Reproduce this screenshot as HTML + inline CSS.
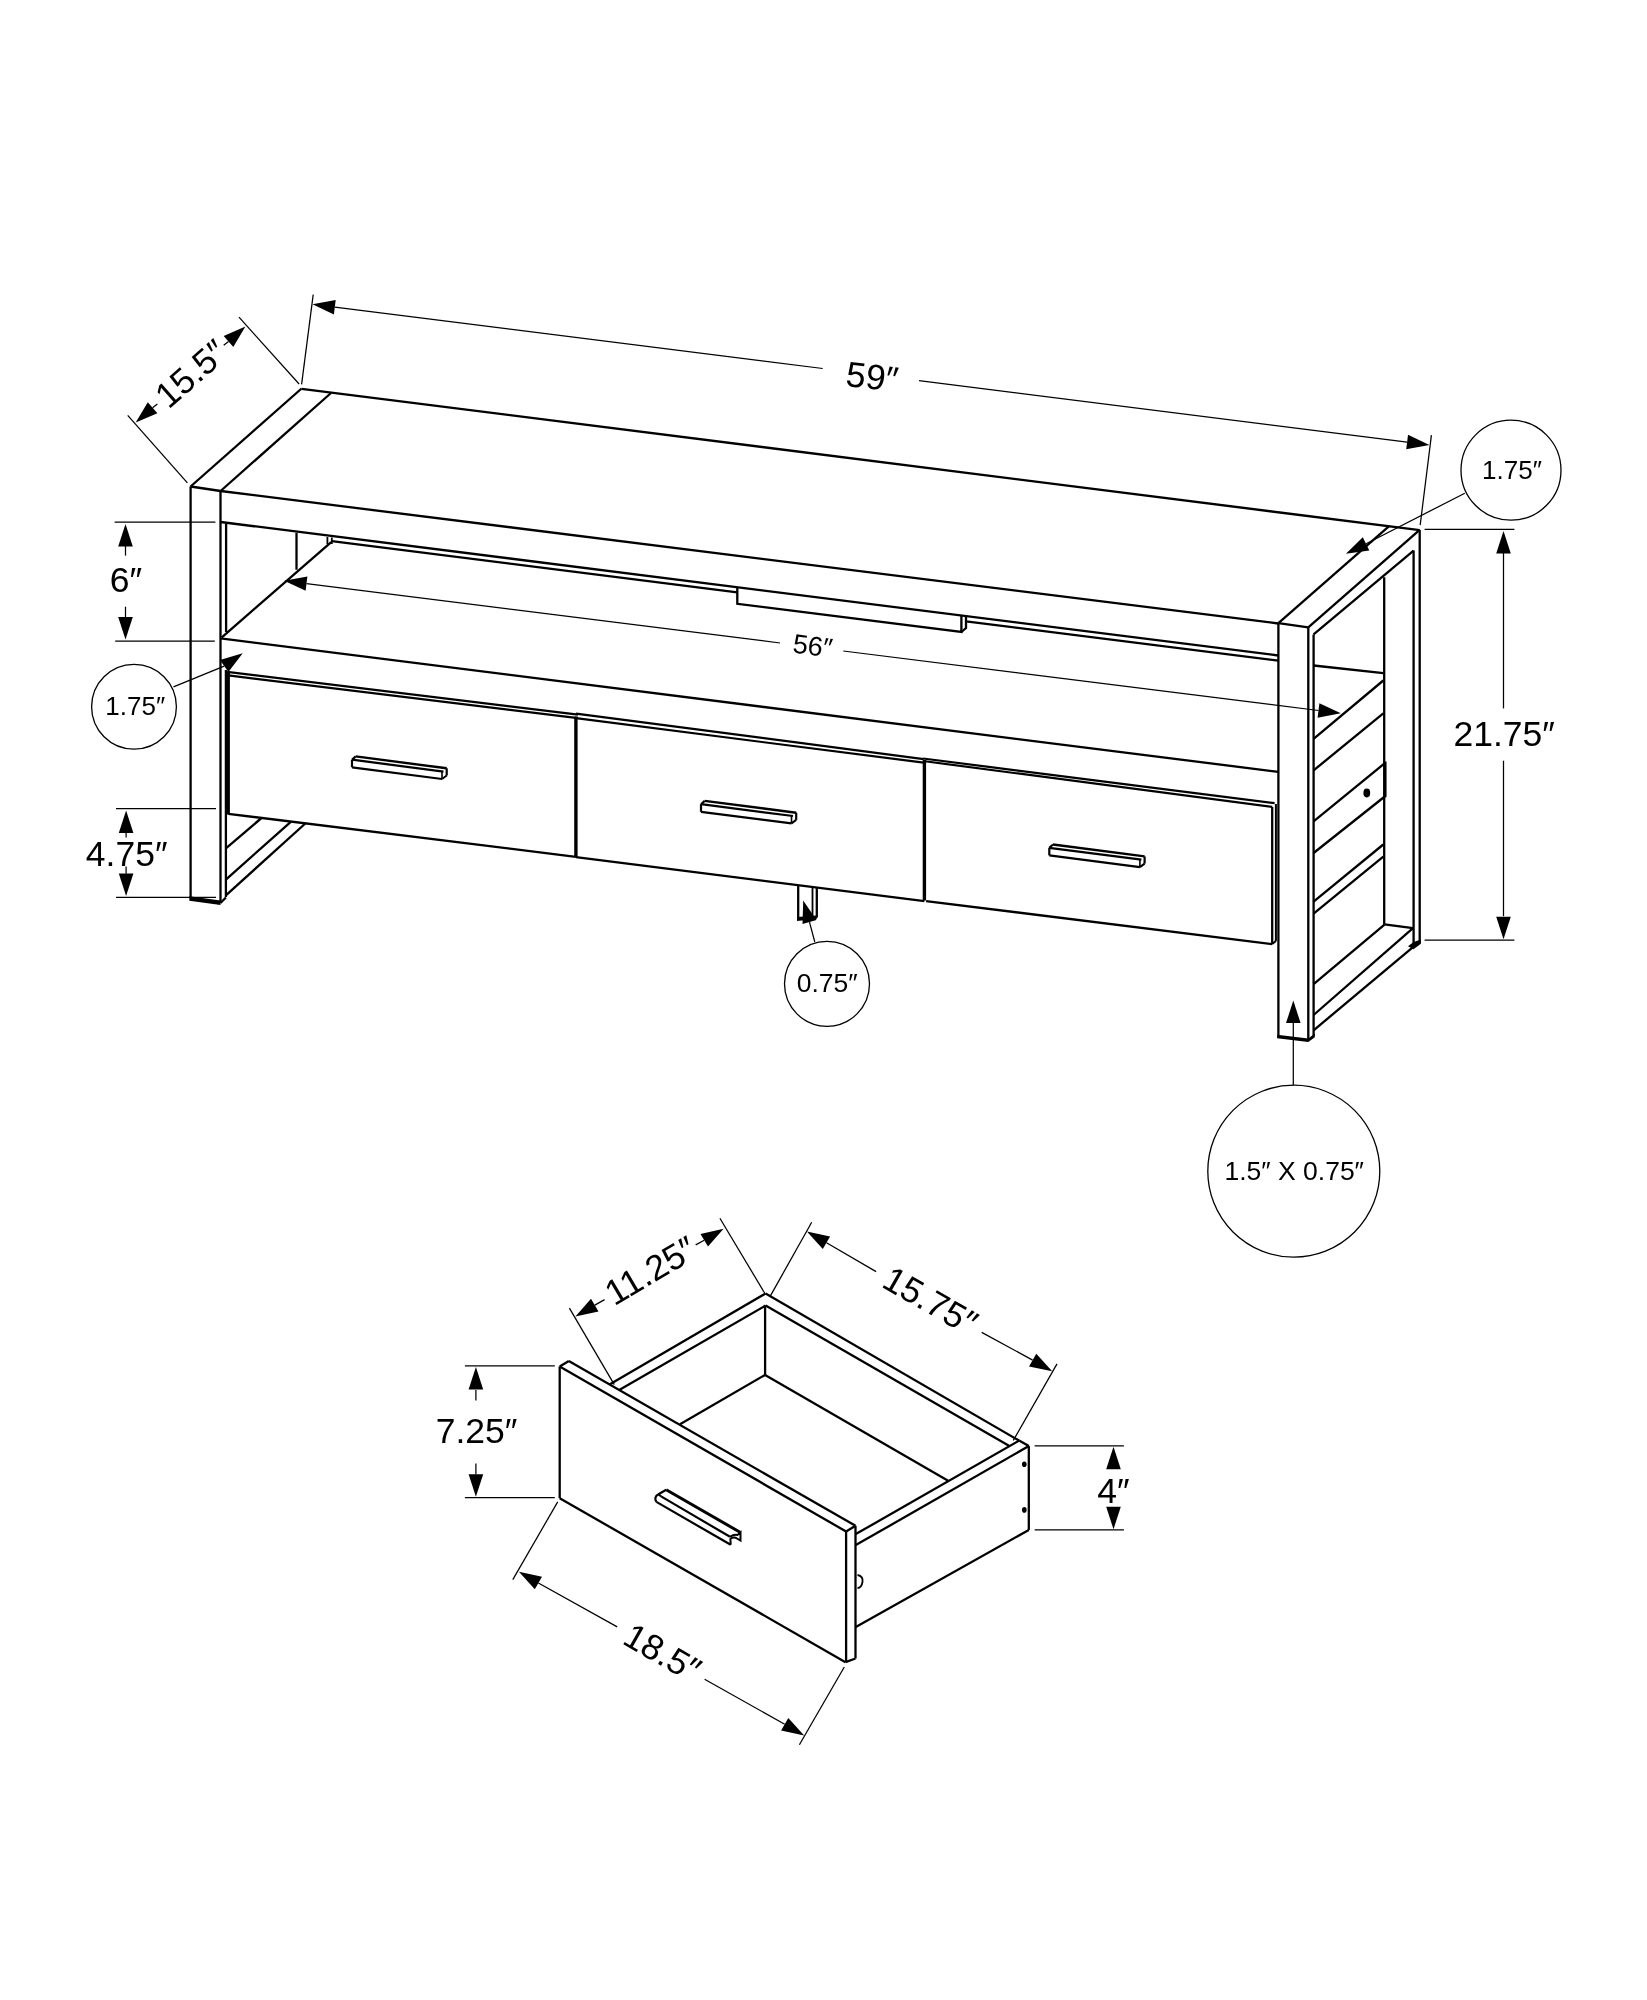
<!DOCTYPE html>
<html><head><meta charset="utf-8"><style>
html,body{margin:0;padding:0;background:#fff;width:1647px;height:2000px;overflow:hidden}
svg{display:block;will-change:transform}
text{font-family:"Liberation Sans",sans-serif;fill:#000;stroke:none}
</style></head><body>
<svg width="1647" height="2000" viewBox="0 0 1647 2000">
<g stroke="#000" stroke-linecap="butt" stroke-linejoin="miter" fill="none">
<line x1="301.6" y1="388.8" x2="1419.7" y2="530.2" stroke-width="2.3"/>
<line x1="220.6" y1="491.0" x2="1278.3" y2="623.5" stroke-width="2.3"/>
<line x1="190.6" y1="486.5" x2="301.6" y2="388.5" stroke-width="2.3"/>
<line x1="220.6" y1="491.0" x2="331.0" y2="393.0" stroke-width="2.3"/>
<line x1="190.6" y1="486.5" x2="220.6" y2="491.0" stroke-width="2.3"/>
<line x1="220.6" y1="522.0" x2="1278.3" y2="655.5" stroke-width="2.3"/>
<line x1="331.8" y1="541.2" x2="737.3" y2="592.4" stroke-width="2.3"/>
<line x1="966.0" y1="621.3" x2="1278.3" y2="660.7" stroke-width="2.3"/>
<polyline points="737.3,587.2 737.3,603.8 961.4,632.0 961.4,615.5" fill="none" stroke-width="2.3"/>
<polyline points="961.4,632.0 966.0,628.0 966.0,617.0" fill="none" stroke-width="2.3"/>
<line x1="327.4" y1="537.0" x2="327.4" y2="544.0" stroke-width="1.8"/>
<line x1="331.8" y1="537.5" x2="331.8" y2="544.0" stroke-width="1.8"/>
<line x1="296.5" y1="532.8" x2="296.5" y2="569.7" stroke-width="2.3"/>
<line x1="190.6" y1="486.5" x2="190.6" y2="898.0" stroke-width="2.3"/>
<line x1="220.5" y1="491.0" x2="220.5" y2="903.0" stroke-width="2.3"/>
<line x1="226.1" y1="523.5" x2="226.1" y2="632.0" stroke-width="2.3"/>
<line x1="225.9" y1="670.0" x2="225.9" y2="897.0" stroke-width="2.3"/>
<polygon points="189.3,896.3 220.5,900.5 220.5,905.0 189.3,900.8" fill="#000" stroke="none"/>
<line x1="220.5" y1="903.0" x2="225.9" y2="897.5" stroke-width="2.3"/>
<line x1="225.9" y1="848.3" x2="261.5" y2="818.0" stroke-width="2.3"/>
<line x1="225.9" y1="879.6" x2="290.8" y2="821.8" stroke-width="2.3"/>
<line x1="225.9" y1="895.3" x2="305.3" y2="823.5" stroke-width="2.3"/>
<line x1="221.8" y1="637.3" x2="331.2" y2="542.2" stroke-width="2.3"/>
<line x1="220.5" y1="638.4" x2="1278.3" y2="771.9" stroke-width="2.3"/>
<line x1="228.3" y1="672.0" x2="228.3" y2="814.5" stroke-width="3.2"/>
<line x1="227.0" y1="671.8" x2="578.0" y2="714.6" stroke-width="2.2"/>
<line x1="228.3" y1="675.4" x2="578.0" y2="718.2" stroke-width="2.2"/>
<line x1="228.3" y1="813.8" x2="575.9" y2="856.8" stroke-width="2.3"/>
<line x1="575.9" y1="716.5" x2="575.9" y2="857.0" stroke-width="3.4"/>
<line x1="576.0" y1="713.6" x2="923.7" y2="759.1" stroke-width="2.2"/>
<line x1="576.0" y1="718.2" x2="923.7" y2="762.7" stroke-width="2.2"/>
<line x1="575.9" y1="857.2" x2="924.4" y2="901.1" stroke-width="2.3"/>
<line x1="924.4" y1="760.0" x2="924.4" y2="900.6" stroke-width="3.4"/>
<line x1="923.0" y1="758.5" x2="1274.6" y2="803.2" stroke-width="2.2"/>
<line x1="923.0" y1="761.0" x2="1272.2" y2="806.9" stroke-width="2.2"/>
<line x1="926.1" y1="901.1" x2="1272.2" y2="944.1" stroke-width="2.3"/>
<line x1="1272.2" y1="806.9" x2="1272.2" y2="944.1" stroke-width="2.3"/>
<line x1="1275.9" y1="804.0" x2="1275.9" y2="941.0" stroke-width="2.0"/>
<line x1="1272.2" y1="944.1" x2="1275.9" y2="941.0" stroke-width="2.0"/>
<polyline points="225.9,798.5 227.5,797.5 227.5,809.5 225.9,810.5" fill="none" stroke-width="1.2"/>
<line x1="352.0" y1="767.3" x2="442.0" y2="779.0" stroke-width="2.2"/>
<line x1="352.0" y1="759.7" x2="443.5" y2="771.6" stroke-width="2.2"/>
<line x1="355.7" y1="756.4" x2="446.7" y2="768.3" stroke-width="2.4"/>
<line x1="352.0" y1="767.3" x2="352.0" y2="759.7" stroke-width="2.2"/>
<line x1="352.0" y1="759.7" x2="355.7" y2="756.4" stroke-width="2.2"/>
<line x1="446.7" y1="768.3" x2="446.7" y2="775.5" stroke-width="2.2"/>
<line x1="442.0" y1="779.0" x2="446.7" y2="775.5" stroke-width="2.0"/>
<line x1="442.0" y1="779.0" x2="442.0" y2="771.6" stroke-width="1.6"/>
<line x1="701.0" y1="811.8" x2="791.5" y2="823.4" stroke-width="2.2"/>
<line x1="701.0" y1="804.2" x2="793.0" y2="816.0" stroke-width="2.2"/>
<line x1="704.7" y1="800.9" x2="796.2" y2="812.7" stroke-width="2.4"/>
<line x1="701.0" y1="811.8" x2="701.0" y2="804.2" stroke-width="2.2"/>
<line x1="701.0" y1="804.2" x2="704.7" y2="800.9" stroke-width="2.2"/>
<line x1="796.2" y1="812.7" x2="796.2" y2="819.9" stroke-width="2.2"/>
<line x1="791.5" y1="823.4" x2="796.2" y2="819.9" stroke-width="2.0"/>
<line x1="791.5" y1="823.4" x2="791.5" y2="816.0" stroke-width="1.6"/>
<line x1="1049.3" y1="855.4" x2="1139.9" y2="867.1" stroke-width="2.2"/>
<line x1="1049.3" y1="847.8" x2="1141.4" y2="859.7" stroke-width="2.2"/>
<line x1="1053.0" y1="844.5" x2="1144.6" y2="856.4" stroke-width="2.4"/>
<line x1="1049.3" y1="855.4" x2="1049.3" y2="847.8" stroke-width="2.2"/>
<line x1="1049.3" y1="847.8" x2="1053.0" y2="844.5" stroke-width="2.2"/>
<line x1="1144.6" y1="856.4" x2="1144.6" y2="863.6" stroke-width="2.2"/>
<line x1="1139.9" y1="867.1" x2="1144.6" y2="863.6" stroke-width="2.0"/>
<line x1="1139.9" y1="867.1" x2="1139.9" y2="859.7" stroke-width="1.6"/>
<line x1="798.2" y1="885.5" x2="798.2" y2="919.0" stroke-width="2.3"/>
<line x1="812.5" y1="887.0" x2="812.5" y2="917.5" stroke-width="1.8"/>
<line x1="816.8" y1="887.6" x2="816.8" y2="917.5" stroke-width="2.3"/>
<polygon points="797.0,917.0 816.8,915.5 816.8,919.0 797.0,921.0" fill="#000" stroke="none"/>
<line x1="1278.4" y1="623.2" x2="1389.4" y2="525.8" stroke-width="2.3"/>
<line x1="1308.3" y1="627.3" x2="1419.7" y2="529.9" stroke-width="2.3"/>
<line x1="1278.4" y1="623.2" x2="1308.3" y2="627.3" stroke-width="2.3"/>
<line x1="1278.4" y1="623.2" x2="1278.4" y2="1036.4" stroke-width="2.3"/>
<line x1="1308.3" y1="627.3" x2="1308.3" y2="1040.0" stroke-width="2.3"/>
<line x1="1313.6" y1="634.4" x2="1313.6" y2="1036.0" stroke-width="2.3"/>
<line x1="1313.6" y1="634.4" x2="1413.6" y2="550.6" stroke-width="2.3"/>
<line x1="1419.7" y1="529.9" x2="1419.7" y2="943.0" stroke-width="2.3"/>
<line x1="1413.6" y1="550.6" x2="1413.6" y2="943.0" stroke-width="2.3"/>
<line x1="1384.2" y1="577.3" x2="1384.2" y2="924.6" stroke-width="2.3"/>
<polygon points="1277.1,1034.8 1308.3,1038.6 1314.8,1033.6 1314.8,1037.2 1308.3,1042.0 1277.1,1038.2" fill="#000" stroke="none"/>
<polygon points="1408.0,946.3 1413.5,949.3 1420.9,943.8 1420.9,939.5 1413.6,942.0" fill="#000" stroke="none"/>
<line x1="1313.6" y1="1030.3" x2="1412.4" y2="947.7" stroke-width="2.3"/>
<line x1="1313.6" y1="1015.0" x2="1413.0" y2="928.2" stroke-width="2.3"/>
<line x1="1384.5" y1="924.4" x2="1413.0" y2="928.2" stroke-width="2.3"/>
<line x1="1313.6" y1="984.2" x2="1384.5" y2="924.6" stroke-width="2.3"/>
<line x1="1313.6" y1="665.5" x2="1383.3" y2="673.2" stroke-width="2.3"/>
<line x1="1313.6" y1="738.8" x2="1383.3" y2="680.5" stroke-width="2.3"/>
<line x1="1313.6" y1="770.4" x2="1383.3" y2="713.3" stroke-width="2.3"/>
<line x1="1313.6" y1="821.4" x2="1385.4" y2="762.7" stroke-width="2.3"/>
<line x1="1385.4" y1="761.5" x2="1385.4" y2="797.0" stroke-width="2.3"/>
<line x1="1313.6" y1="853.0" x2="1385.4" y2="796.0" stroke-width="2.3"/>
<ellipse cx="1366.8" cy="793.0" rx="3.4" ry="4.4" fill="#000" stroke="none"/>
<line x1="1313.6" y1="901.6" x2="1383.3" y2="844.5" stroke-width="2.3"/>
<line x1="1313.6" y1="913.7" x2="1383.3" y2="856.6" stroke-width="2.3"/>
<line x1="313.2" y1="294.6" x2="301.6" y2="384.4" stroke-width="1.25"/>
<line x1="1431.4" y1="435.2" x2="1420.2" y2="525.1" stroke-width="1.25"/>
<polygon points="312.5,304.3 335.7,299.9 333.9,314.4" fill="#000" stroke="none"/>
<polygon points="1429.4,444.9 1406.2,449.3 1408.0,434.8" fill="#000" stroke="none"/>
<line x1="334.8" y1="307.1" x2="822.7" y2="368.5" stroke-width="1.25"/>
<line x1="919.0" y1="380.7" x2="1407.1" y2="442.1" stroke-width="1.25"/>
<text transform="translate(872.2,376.6) rotate(7.2)" x="0" y="12.4" font-size="35.5" text-anchor="middle">59″</text>
<line x1="239.0" y1="317.2" x2="299.1" y2="384.0" stroke-width="1.25"/>
<line x1="127.7" y1="415.4" x2="187.4" y2="482.8" stroke-width="1.25"/>
<polygon points="135.7,422.6 147.8,402.3 157.4,413.3" fill="#000" stroke="none"/>
<polygon points="245.4,326.6 233.3,346.9 223.7,335.9" fill="#000" stroke="none"/>
<line x1="152.6" y1="407.8" x2="157.4" y2="403.9" stroke-width="1.25"/>
<line x1="223.7" y1="345.3" x2="228.5" y2="341.4" stroke-width="1.25"/>
<text transform="translate(191.0,373.5) rotate(-41.2)" x="0" y="12.4" font-size="35.5" text-anchor="middle">15.5″</text>
<polygon points="284.2,580.8 307.4,576.4 305.6,590.8" fill="#000" stroke="none"/>
<polygon points="1340.8,713.3 1317.6,717.7 1319.4,703.3" fill="#000" stroke="none"/>
<line x1="306.5" y1="583.6" x2="780.0" y2="643.0" stroke-width="1.25"/>
<line x1="843.3" y1="651.0" x2="1318.5" y2="710.5" stroke-width="1.25"/>
<text transform="translate(812.7,645.7) rotate(7.1)" x="0" y="9.4" font-size="27" text-anchor="middle">56″</text>
<line x1="114.6" y1="522.1" x2="215.4" y2="522.1" stroke-width="1.25"/>
<line x1="115.2" y1="641.2" x2="214.8" y2="641.2" stroke-width="1.25"/>
<polygon points="125.5,524.0 132.8,546.5 118.2,546.5" fill="#000" stroke="none"/>
<polygon points="125.5,639.4 118.2,616.9 132.8,616.9" fill="#000" stroke="none"/>
<line x1="125.5" y1="546.0" x2="125.5" y2="555.6" stroke-width="1.25"/>
<line x1="125.5" y1="606.7" x2="125.5" y2="617.6" stroke-width="1.25"/>
<text transform="translate(126.0,580.0) rotate(0)" x="0" y="12.4" font-size="35.5" text-anchor="middle">6″</text>
<line x1="116.0" y1="808.7" x2="216.0" y2="808.7" stroke-width="1.25"/>
<line x1="116.0" y1="897.4" x2="216.0" y2="897.4" stroke-width="1.25"/>
<polygon points="126.1,810.6 133.4,833.1 118.8,833.1" fill="#000" stroke="none"/>
<polygon points="126.1,896.1 118.8,873.6 133.4,873.6" fill="#000" stroke="none"/>
<line x1="126.1" y1="832.5" x2="126.1" y2="837.4" stroke-width="1.25"/>
<line x1="126.1" y1="866.5" x2="126.1" y2="873.8" stroke-width="1.25"/>
<text transform="translate(126.7,853.1) rotate(0)" x="0" y="12.4" font-size="35.5" text-anchor="middle">4.75″</text>
<line x1="1424.6" y1="529.4" x2="1514.4" y2="529.4" stroke-width="1.25"/>
<line x1="1424.6" y1="940.0" x2="1514.4" y2="940.0" stroke-width="1.25"/>
<polygon points="1503.5,531.1 1510.8,553.6 1496.2,553.6" fill="#000" stroke="none"/>
<polygon points="1503.5,939.2 1496.2,916.7 1510.8,916.7" fill="#000" stroke="none"/>
<line x1="1503.5" y1="553.0" x2="1503.5" y2="708.4" stroke-width="1.25"/>
<line x1="1503.5" y1="760.7" x2="1503.5" y2="916.2" stroke-width="1.25"/>
<text transform="translate(1504.2,733.5) rotate(0)" x="0" y="12.4" font-size="35.5" text-anchor="middle">21.75″</text>
<circle cx="1511.0" cy="470.2" r="50.0" fill="none" stroke-width="1.3"/>
<polygon points="1345.9,553.8 1362.8,537.3 1369.3,550.4" fill="#000" stroke="none"/>
<line x1="1366.1" y1="543.8" x2="1464.8" y2="493.2" stroke-width="1.25"/>
<text transform="translate(1512.0,469.8) rotate(0)" x="0" y="9.1" font-size="26" text-anchor="middle">1.75″</text>
<circle cx="134.0" cy="706.8" r="42.4" fill="none" stroke-width="1.3"/>
<polygon points="242.7,653.3 228.4,672.1 220.0,660.1" fill="#000" stroke="none"/>
<line x1="173.5" y1="686.8" x2="224.2" y2="666.1" stroke-width="1.25"/>
<text transform="translate(135.2,706.0) rotate(0)" x="0" y="9.1" font-size="26" text-anchor="middle">1.75″</text>
<circle cx="827.0" cy="983.8" r="42.5" fill="none" stroke-width="1.3"/>
<polygon points="803.2,900.5 816.5,920.0 802.5,924.1" fill="#000" stroke="none"/>
<line x1="809.5" y1="922.1" x2="814.8" y2="942.0" stroke-width="1.25"/>
<text transform="translate(827.2,982.8) rotate(0)" x="0" y="9.3" font-size="26.5" text-anchor="middle">0.75″</text>
<circle cx="1293.8" cy="1171.2" r="86.0" fill="none" stroke-width="1.3"/>
<polygon points="1293.3,1000.6 1300.6,1023.1 1286.0,1023.1" fill="#000" stroke="none"/>
<line x1="1293.3" y1="1022.0" x2="1293.3" y2="1085.2" stroke-width="1.25"/>
<text transform="translate(1294.2,1170.5) rotate(0)" x="0" y="9.3" font-size="26.5" text-anchor="middle">1.5″ X 0.75″</text>
<line x1="559.7" y1="1366.5" x2="559.7" y2="1498.2" stroke-width="2.3"/>
<line x1="559.7" y1="1366.5" x2="568.8" y2="1361.0" stroke-width="2.3"/>
<line x1="559.7" y1="1366.5" x2="846.1" y2="1531.5" stroke-width="2.3"/>
<line x1="568.8" y1="1361.0" x2="855.5" y2="1525.8" stroke-width="2.3"/>
<line x1="846.1" y1="1531.5" x2="855.5" y2="1525.8" stroke-width="2.3"/>
<line x1="846.1" y1="1531.5" x2="846.1" y2="1662.2" stroke-width="2.3"/>
<line x1="855.5" y1="1525.8" x2="855.5" y2="1658.5" stroke-width="2.3"/>
<line x1="559.7" y1="1498.2" x2="845.5" y2="1662.2" stroke-width="2.3"/>
<line x1="845.5" y1="1662.2" x2="855.5" y2="1658.5" stroke-width="2.3"/>
<line x1="609.5" y1="1384.4" x2="765.6" y2="1293.5" stroke-width="2.3"/>
<line x1="619.2" y1="1390.0" x2="765.6" y2="1305.6" stroke-width="2.3"/>
<line x1="765.6" y1="1293.5" x2="1019.1" y2="1440.6" stroke-width="2.3"/>
<line x1="765.6" y1="1305.6" x2="1009.4" y2="1446.1" stroke-width="2.3"/>
<line x1="1019.1" y1="1440.6" x2="855.8" y2="1534.1" stroke-width="2.3"/>
<line x1="1028.8" y1="1446.1" x2="855.8" y2="1545.1" stroke-width="2.3"/>
<line x1="1019.1" y1="1440.6" x2="1028.8" y2="1446.1" stroke-width="2.3"/>
<line x1="1028.8" y1="1446.1" x2="1028.8" y2="1529.9" stroke-width="2.3"/>
<line x1="1028.8" y1="1529.9" x2="855.8" y2="1626.9" stroke-width="2.3"/>
<ellipse cx="1024.3" cy="1464.3" rx="2.3" ry="2.8" fill="#000" stroke="none"/>
<ellipse cx="1024.3" cy="1509.9" rx="2.3" ry="2.8" fill="#000" stroke="none"/>
<line x1="765.1" y1="1305.6" x2="765.1" y2="1374.9" stroke-width="2.3"/>
<line x1="765.1" y1="1374.9" x2="948.1" y2="1480.7" stroke-width="2.3"/>
<line x1="765.1" y1="1374.9" x2="680.0" y2="1424.3" stroke-width="2.3"/>
<path d="M857.5,1575 q6,1 5,7 q-1,6 -5,6" fill="none" stroke="#000" stroke-width="1.8"/>
<line x1="666.2" y1="1489.8" x2="740.5" y2="1532.5" stroke-width="3.0"/>
<line x1="661.1" y1="1496.4" x2="730.0" y2="1536.8" stroke-width="2.2"/>
<line x1="656.4" y1="1501.9" x2="730.7" y2="1544.8" stroke-width="2.2"/>
<path d="M656.4,1501.9 C654.5,1499 655,1496 658.5,1494.3 L666.2,1489.8" fill="none" stroke="#000" stroke-width="2.2"/>
<line x1="658.5" y1="1494.3" x2="661.1" y2="1496.4" stroke-width="2.0"/>
<path d="M730.7,1544.8 L730.4,1539 C733,1537 735,1537 737,1538.5 L740.5,1540.6 L740.5,1532.5 L737.5,1535 C735,1534.5 732,1535.5 730,1536.8" fill="none" stroke="#000" stroke-width="2.0"/>
<line x1="719.9" y1="1218.2" x2="764.9" y2="1293.5" stroke-width="1.25"/>
<line x1="569.4" y1="1308.1" x2="614.3" y2="1384.6" stroke-width="1.25"/>
<polygon points="575.4,1316.6 591.0,1298.8 598.5,1311.4" fill="#000" stroke="none"/>
<polygon points="723.6,1228.7 708.0,1246.5 700.5,1233.9" fill="#000" stroke="none"/>
<line x1="594.8" y1="1305.1" x2="604.6" y2="1299.6" stroke-width="1.25"/>
<line x1="695.7" y1="1244.9" x2="704.2" y2="1240.2" stroke-width="1.25"/>
<text transform="translate(650.5,1270.5) rotate(-30.7)" x="0" y="12.4" font-size="35.5" text-anchor="middle">11.25″</text>
<line x1="811.7" y1="1222.3" x2="770.4" y2="1295.9" stroke-width="1.25"/>
<line x1="1057.0" y1="1363.9" x2="1013.3" y2="1440.4" stroke-width="1.25"/>
<polygon points="806.9,1231.6 830.1,1236.4 822.8,1249.1" fill="#000" stroke="none"/>
<polygon points="1052.2,1371.2 1029.0,1366.4 1036.3,1353.7" fill="#000" stroke="none"/>
<line x1="826.5" y1="1242.7" x2="876.1" y2="1271.6" stroke-width="1.25"/>
<line x1="981.7" y1="1332.4" x2="1032.6" y2="1360.1" stroke-width="1.25"/>
<text transform="translate(930.5,1300.5) rotate(29.65)" x="0" y="12.4" font-size="35.5" text-anchor="middle">15.75″</text>
<line x1="557.7" y1="1501.9" x2="512.8" y2="1579.6" stroke-width="1.25"/>
<line x1="844.3" y1="1667.0" x2="799.4" y2="1744.7" stroke-width="1.25"/>
<polygon points="518.9,1571.8 542.0,1576.7 534.8,1589.3" fill="#000" stroke="none"/>
<polygon points="804.2,1735.5 781.1,1730.6 788.3,1718.0" fill="#000" stroke="none"/>
<line x1="538.4" y1="1583.0" x2="617.2" y2="1626.9" stroke-width="1.25"/>
<line x1="704.6" y1="1679.2" x2="784.7" y2="1724.3" stroke-width="1.25"/>
<text transform="translate(662.5,1652.5) rotate(29.85)" x="0" y="12.4" font-size="35.5" text-anchor="middle">18.5″</text>
<line x1="464.9" y1="1365.9" x2="554.8" y2="1365.9" stroke-width="1.25"/>
<line x1="464.9" y1="1497.5" x2="554.8" y2="1497.5" stroke-width="1.25"/>
<polygon points="475.9,1367.1 483.2,1389.6 468.6,1389.6" fill="#000" stroke="none"/>
<polygon points="475.9,1496.8 468.6,1474.3 483.2,1474.3" fill="#000" stroke="none"/>
<line x1="475.9" y1="1390.0" x2="475.9" y2="1400.4" stroke-width="1.25"/>
<line x1="475.9" y1="1463.5" x2="475.9" y2="1474.5" stroke-width="1.25"/>
<text transform="translate(476.5,1430.7) rotate(0)" x="0" y="12.4" font-size="35.5" text-anchor="middle">7.25″</text>
<line x1="1034.6" y1="1445.8" x2="1123.9" y2="1445.8" stroke-width="1.25"/>
<line x1="1034.6" y1="1529.9" x2="1123.9" y2="1529.9" stroke-width="1.25"/>
<polygon points="1113.5,1446.8 1120.8,1469.3 1106.2,1469.3" fill="#000" stroke="none"/>
<polygon points="1113.5,1529.3 1106.2,1506.8 1120.8,1506.8" fill="#000" stroke="none"/>
<text transform="translate(1113.3,1490.5) rotate(0)" x="0" y="12.4" font-size="35.5" text-anchor="middle">4″</text>
</g>
</svg>
</body></html>
